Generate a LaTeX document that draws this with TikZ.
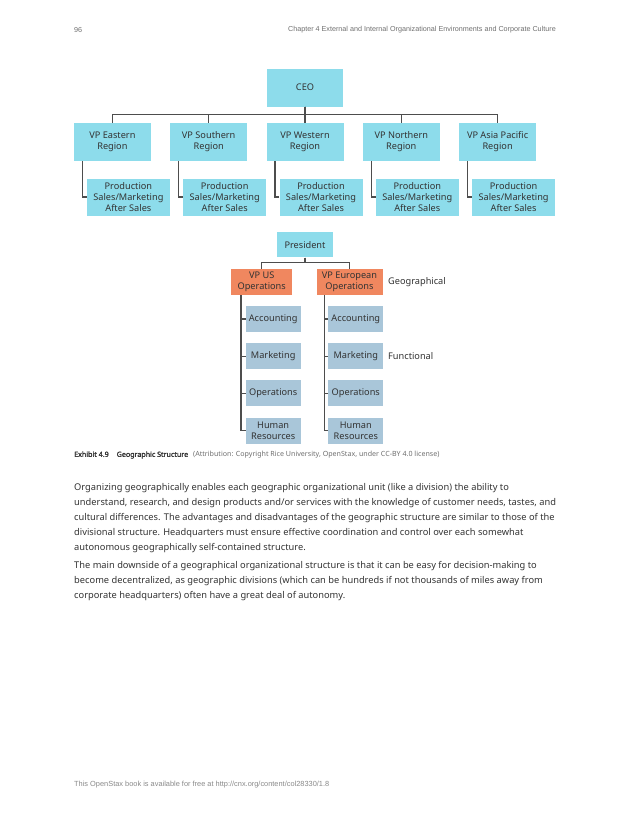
\documentclass[tikz,border=0pt]{standalone}
\usepackage{fontspec}
\setmainfont{Noto Sans}
\newfontfamily\headfont{Liberation Sans}
\IfFontExistsTF{Noto Sans Bold}
  {\newfontfamily\capbold{Noto Sans Bold}}
  {\newfontfamily\capbold{Noto Sans}[FakeBold=2]}
\usepackage{tikz}
\usetikzlibrary{positioning}

\definecolor{regioncyan}{HTML}{8DDCEB}
\definecolor{geoorange}{HTML}{F0875F}
\definecolor{funcblue}{HTML}{A9C6D9}
\definecolor{linegray}{HTML}{4D4D4D}
\definecolor{inkgray}{HTML}{333333}
\definecolor{headgray}{HTML}{707070}
\definecolor{footgray}{HTML}{8A8A8A}

\tikzset{
  region/.style={rectangle, fill=regioncyan, text=inkgray, align=center, inner sep=0pt,
    font=\fontsize{9.2}{11}\selectfont, minimum width=77pt, minimum height=38pt},
  unit/.style={region, minimum width=83pt, minimum height=37pt},
  geo/.style={region, fill=geoorange, minimum width=61pt, minimum height=26pt},
  func/.style={region, fill=funcblue, minimum width=55pt, minimum height=26pt},
  sidenote/.style={text=inkgray, anchor=west, inner sep=0pt, font=\fontsize{9.2}{11}\selectfont},
  link/.style={draw=linegray, line width=1.1pt},
  pagehead/.style={text=headgray, inner sep=0pt, font=\headfont\fontsize{7.2}{9}\selectfont},
  bodytext/.style={text=inkgray, anchor=north west, inner sep=0pt, align=left,
    font=\fontsize{9.3}{15}\selectfont}
}

\begin{document}
\begin{tikzpicture}[x=1pt, y=-1pt, node distance=96.3pt]
\useasboundingbox[fill=white] (0,0) rectangle (630,815);

% running head
\node[pagehead, anchor=west] (PAGE) at (74,30) {96};
\node[pagehead, anchor=east] (CHAP) at (556,30) {Chapter 4 External and Internal Organizational Environments and Corporate Culture};

% geographic chart
\node[region, minimum width=76pt] (CEO) at (305,87.5) {CEO};
\node[region] (VPW) at (305,142) {VP Western\\Region};
\node[region] (VPS) [left of=VPW]  {VP Southern\\Region};
\node[region] (VPE) [left of=VPS]  {VP Eastern\\Region};
\node[region] (VPN) [right of=VPW] {VP Northern\\Region};
\node[region] (VPA) [right of=VPN] {VP Asia Pacific\\Region};
\coordinate (BUS) at (305,114.3);

\foreach \vp in {VPE,VPS,VPW,VPN,VPA}{
  \node[unit] (P\vp) [below of=\vp, node distance=55pt, xshift=16pt] {Production\\Sales/Marketing\\After Sales};
  \draw[link] (CEO.south) -- (BUS) -| (\vp.north);
  \draw[link] ([xshift=-30pt]\vp.south) |- (P\vp.west);
}

% president chart
\node[region, minimum width=56pt, minimum height=25pt] (PRES) at (305,244.8) {President};
\coordinate (BUS2) at (305,262.7);
\node[geo] (VPUS) at (261.7,282) {VP US\\Operations};
\node[geo, minimum width=66pt] (VPEU) at (349.5,282) {VP European\\Operations};
\node[sidenote] (GEO) at (388,282) {Geographical};

\draw[link] (PRES.south) -- (BUS2) -| (VPUS.north);
\draw[link] (PRES.south) -- (BUS2) -| (VPEU.north);

\foreach \dept/\txt [count=\i] in {ACC/Accounting, MKT/Marketing, OPS/Operations, HR/{Human\\Resources}}{
  \node[func] (US\dept) at (273.2,{319+37.2*(\i-1)}) {\txt};
  \node[func] (EU\dept) at (355.8,{319+37.2*(\i-1)}) {\txt};
}
\node[sidenote] (FUNC) at (388,356) {Functional};

\draw[link] ([xshift=-20.7pt]VPUS.south) |- (USHR.west);
\draw[link] ([xshift=-25.2pt]VPEU.south) |- (EUHR.west);
\foreach \dept in {ACC,MKT,OPS}{
  \draw[link] (US\dept.west) -- ([xshift=-20.7pt]VPUS.south |- US\dept.west);
  \draw[link] (EU\dept.west) -- ([xshift=-25.2pt]VPEU.south |- EU\dept.west);
}

% caption and text
\node[anchor=west, inner sep=0pt, text=inkgray, font=\fontsize{7.1}{9}\selectfont] (CAP) at (74,455)
  {{\capbold Exhibit 4.9}\hspace{8pt}{\capbold Geographic Structure}\hspace{5pt}{\color{headgray}(Attribution: Copyright Rice University, OpenStax, under CC-BY 4.0 license)}};

\node[bodytext] (PARA1) at (74,482.8) {Organizing geographically enables each geographic organizational unit (like a division) the ability to\\
understand, research, and design products and/or services with the knowledge of customer needs, tastes, and\\
cultural differences. The advantages and disadvantages of the geographic structure are similar to those of the\\
divisional structure. Headquarters must ensure effective coordination and control over each somewhat\\
autonomous geographically self-contained structure.};
\node[bodytext] (PARA2) at (74,560.8) {The main downside of a geographical organizational structure is that it can be easy for decision-making to\\
become decentralized, as geographic divisions (which can be hundreds if not thousands of miles away from\\
corporate headquarters) often have a great deal of autonomy.};

% footer
\node[pagehead, font=\headfont\fontsize{7.4}{9}\selectfont, text=footgray, anchor=west] (FOOT) at (74,785) {This OpenStax book is available for free at http://cnx.org/content/col28330/1.8};
\end{tikzpicture}
\end{document}
